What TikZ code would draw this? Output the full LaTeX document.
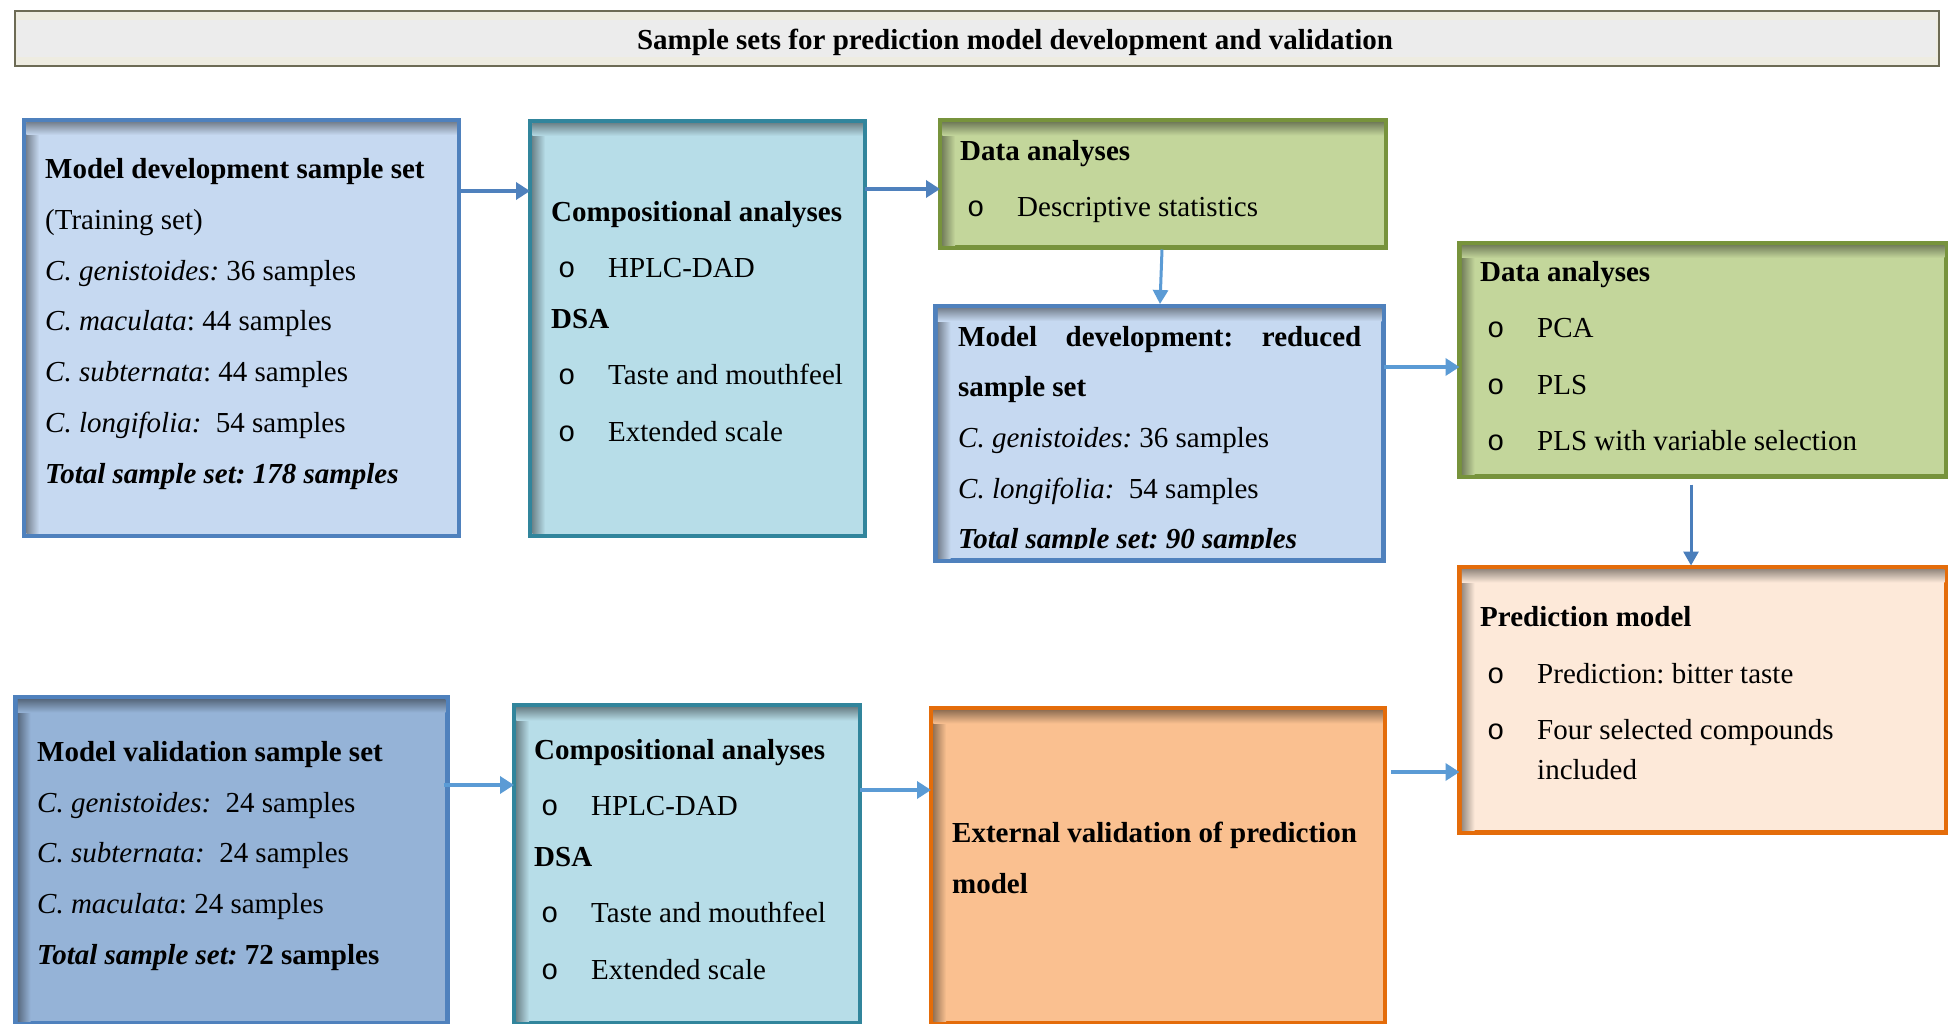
\documentclass[tikz,border=0pt]{standalone}
\usepackage{fontspec}
\setmainfont{Liberation Serif}
\newfontfamily\bulfont{Liberation Mono}
\usetikzlibrary{arrows.meta,calc}

\definecolor{bluefill}{HTML}{C6D9F1}
\definecolor{bluedark}{HTML}{95B3D7}
\definecolor{blueline}{HTML}{4F81BD}
\definecolor{tealfill}{HTML}{B7DDE8}
\definecolor{tealline}{HTML}{31859C}
\definecolor{greenfill}{HTML}{C3D69B}
\definecolor{greenline}{HTML}{77933C}
\definecolor{orangefill}{HTML}{FDE9D9}
\definecolor{orangedark}{HTML}{FAC090}
\definecolor{orangeline}{HTML}{E46C0A}
\definecolor{arrowA}{HTML}{4F81BD}
\definecolor{arrowB}{HTML}{5B9BD5}
\definecolor{arrowC}{HTML}{4A7EBB}
\definecolor{titleline}{HTML}{6D6B55}
\definecolor{titlebeige}{HTML}{EEECE1}
\definecolor{titlegray}{HTML}{ECECEC}

\newcommand\bul{\hspace*{7pt}\makebox[50pt][l]{\bulfont o}}
\newcommand\inshadow[2]{%
  \shade[left color=#2!60!black, right color=#2] ($(#1.north west)+(2.25,2.25)$) rectangle ($(#1.south west)+(15,-2.25)$);
  \shade[top color=#2!60!black, bottom color=#2] ($(#1.north west)+(2.25,2.25)$) rectangle ($(#1.north east)+(-2.25,15)$);}

\tikzset{
  box/.style={draw, line width=4.5pt, outer sep=0pt, inner sep=0pt, anchor=north west},
  txt/.style={anchor=west, align=left, inner sep=0pt, font=\fontsize{29pt}{50.7pt}\selectfont\frenchspacing},
  arr/.style={line width=4pt, draw=arrowA, -{Triangle[length=14pt,width=17pt]}},
  arrthin/.style={line width=3pt, -{Triangle[length=14pt,width=15pt]}},
}

\begin{document}
\begin{tikzpicture}[x=1pt,y=-1pt]
\useasboundingbox (0,0) rectangle (1948,1024);
\fill[white] (0,0) rectangle (1948,1024);

% title bar
\node[draw=titleline, line width=2pt, fill=titlebeige, outer sep=0pt, inner sep=0pt,
      minimum width=1924pt, minimum height=55pt, anchor=north west] (tb) at (15,11) {};
\fill[titlegray] ($(tb.north west)+(1.5,9)$) rectangle ($(tb.south east)+(-3.5,-9)$);
\node[inner sep=0pt, font=\fontsize{29pt}{35pt}\selectfont\bfseries] (tt) at (1015,42.5)
  {Sample sets for prediction model development and validation};

% boxes
\node[box, draw=blueline, fill=bluefill, minimum width=435pt, minimum height=416pt] (b1) at (24,120) {};
\node[box, draw=tealline, fill=tealfill, minimum width=335pt, minimum height=415pt] (b2) at (530,121) {};
\node[box, draw=greenline, fill=greenfill, minimum width=446pt, minimum height=127pt] (b3) at (940,120.5) {};
\node[box, draw=blueline, fill=bluefill, minimum width=448pt, minimum height=254.5pt] (b4) at (935.5,306) {};
\node[box, draw=greenline, fill=greenfill, minimum width=487pt, minimum height=233.5pt] (b5) at (1459.5,243) {};
\node[box, draw=orangeline, fill=orangefill, minimum width=487pt, minimum height=265pt] (b6) at (1459.5,567.5) {};
\node[box, draw=blueline, fill=bluedark, minimum width=432pt, minimum height=326pt] (b7) at (15.5,697.5) {};
\node[box, draw=tealline, fill=tealfill, minimum width=346pt, minimum height=318pt] (b8) at (514,705.5) {};
\node[box, draw=orangeline, fill=orangedark, minimum width=454pt, minimum height=315pt] (b9) at (931,708.5) {};

\inshadow{b1}{bluefill}
\inshadow{b2}{tealfill}
\inshadow{b3}{greenfill}
\inshadow{b4}{bluefill}
\inshadow{b5}{greenfill}
\inshadow{b6}{orangefill}
\inshadow{b7}{bluedark}
\inshadow{b8}{tealfill}
\inshadow{b9}{orangedark}

% texts
\node[txt] (t1) at (45,324) {%
\textbf{Model development sample set}\\
(Training set)\\
\textit{C. genistoides:} 36 samples\\
\textit{C. maculata}: 44 samples\\
\textit{C. subternata}: 44 samples\\
\textit{C. longifolia:}\ \ 54 samples\\
\textbf{\textit{Total sample set: 178 samples}}};

\node[txt] (t2) at (551,321.5) {%
\textbf{Compositional analyses}\\[5.5pt]
\bul HPLC-DAD\\
\textbf{DSA}\\[5.5pt]
\bul Taste and mouthfeel\\[5.5pt]
\bul Extended scale};

\node[txt] (t3) at (960,181.5) {%
\textbf{Data analyses}\\[6pt]
\bul Descriptive statistics};

\begin{scope}
\clip (b4.north west) rectangle ($(b4.south east)+(0,-12)$);
\node[txt] (t4) at (958,440.5) {%
\makebox[403pt]{\bfseries Model\hfill development:\hfill reduced}\\
\textbf{sample set}\\
\textit{C. genistoides:} 36 samples\\
\textit{C. longifolia:}\ \ 54 samples\\
\textbf{\textit{Total sample set: 90 samples}}};
\end{scope}

\node[txt] (t5) at (1480,356) {%
\textbf{Data analyses}\\[5.5pt]
\bul PCA\\[5.5pt]
\bul PLS\\[5.5pt]
\bul PLS with variable selection};

\node[txt] (t6) at (1480,693.5) {%
\textbf{Prediction model}\\[6pt]
\bul Prediction: bitter taste\\[5.5pt]
\bul Four selected compounds\\[-10.7pt]
\hspace*{57pt}included};

\node[txt] (t7) at (37,856) {%
\textbf{Model validation sample set}\\
\textit{C. genistoides:}\ \ 24 samples\\
\textit{C. subternata:}\ \ 24 samples\\
\textit{C. maculata}: 24 samples\\
\textbf{\textit{Total sample set:} 72 samples}};

\node[txt] (t8) at (534,859.5) {%
\textbf{Compositional analyses}\\[5.5pt]
\bul HPLC-DAD\\
\textbf{DSA}\\[5.5pt]
\bul Taste and mouthfeel\\[5.5pt]
\bul Extended scale};

\node[txt] (t9) at (952,858) {%
\textbf{External validation of prediction}\\
\textbf{model}};

% arrow levels
\coordinate (y1) at (0,191);
\coordinate (y2) at (0,189);
\coordinate (y4) at (0,367);
\coordinate (y6) at (0,785);
\coordinate (y7) at (0,790);
\coordinate (y8) at (0,772);

\draw[arr] (b1.east |- y1) -- (b2.west |- y1);
\draw[arr] (b2.east |- y2) -- (b3.west |- y2);
\draw[arrthin, draw=arrowB] ($(b3.south west)+(222,2)$) -- ($(b4.north west)+(224.5,-2)$);
\draw[arr, draw=arrowB] (b4.east |- y4) -- (b5.west |- y4);
\draw[arrthin, draw=arrowC] ($(b5.south west)+(231.5,8)$) -- ($(b6.north west)+(231.5,-2)$);
\draw[arr, draw=arrowB] ($(b7.east |- y6)+(-4,0)$) -- (b8.west |- y6);
\draw[arr, draw=arrowB] (b8.east |- y7) -- (b9.west |- y7);
\draw[arr, draw=arrowB] ($(b9.east |- y8)+(6,0)$) -- (b6.west |- y8);
\end{tikzpicture}
\end{document}
